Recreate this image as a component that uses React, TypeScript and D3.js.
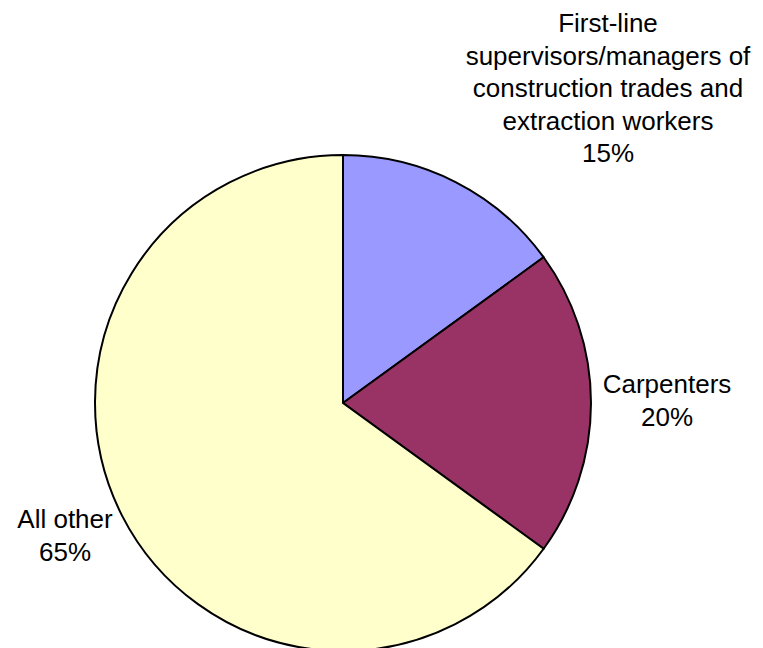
import React from "react";
import * as d3 from "d3";

const categories = [
  "First-line supervisors/managers of construction trades and extraction workers",
  "Carpenters",
  "All other",
];
const values = [15, 20, 65];
const colors = ["#9999FF", "#993366", "#FFFFCC"];
const labelLines = [
  ["First-line", "supervisors/managers of", "construction trades and", "extraction workers", "15%"],
  ["Carpenters", "20%"],
  ["All other", "65%"],
];

export default function App() {
  const W = 763, H = 648;
  const cx = 343, cy = 403, r = 248;
  const pie = d3.pie<number>().sort(null).value((d) => d)(values);
  const arc = d3.arc<d3.PieArcDatum<number>>().innerRadius(0).outerRadius(r);
  // label anchor positions relative to the arc centroid direction
  const labelPos = [
    { x: 608, y: 32 },
    { x: 667, y: 393 },
    { x: 65, y: 528 },
  ];
  const lh = 32.5;
  return (
    <svg width={W} height={H} style={{ position: "absolute", left: 0, top: 0 }}
      fontFamily="'Liberation Sans', Arial, sans-serif">
      <g transform={`translate(${cx},${cy})`}>
        {pie.map((p, i) => (
          <path key={i} d={arc(p) || ""} fill={colors[i]} stroke="#000" strokeWidth={2} />
        ))}
      </g>
      {labelLines.map((lines, i) => (
        <text key={i} textAnchor="middle" fontSize={26} fill="#000">
          {lines.map((t, j) => (
            <tspan key={j} x={labelPos[i].x} y={labelPos[i].y + j * lh}>{t}</tspan>
          ))}
        </text>
      ))}
    </svg>
  );
}
